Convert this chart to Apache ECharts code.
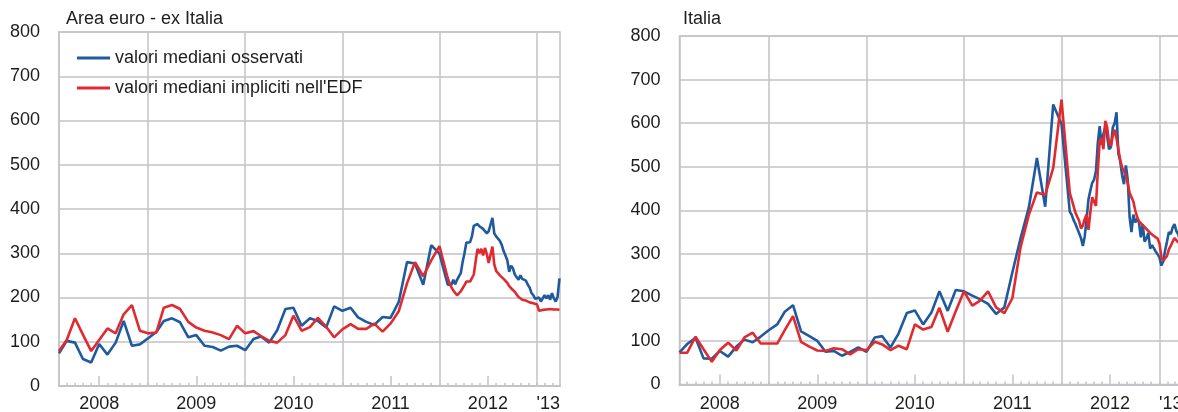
<!DOCTYPE html>
<html><head><meta charset="utf-8">
<script src="https://cdn.jsdelivr.net/npm/echarts@6/dist/echarts.min.js"></script>
<style>html,body{margin:0;padding:0;background:#fff}#c{width:1178px;height:412px}</style>
</head><body><div id="c"></div>
<script>
// ---------- data ----------
const seriesNames = ['valori mediani osservati', "valori mediani impliciti nell'EDF"];
const panelTitles = ['Area euro - ex Italia', 'Italia'];
// monthly observations: Feb 2008 .. Jan 2012 (first day of month)
const monthlyStart = [2008, 1];
// weekly observations from 1 Feb 2012
const weeklyStart = [2012, 1, 1];

const euBlueMonthly = [74,102,98,61,53,95,71,98,147,91,94,
  108,122,147,153,144,110,115,91,88,80,89,91,
  81,106,112,98,126,174,177,136,153,147,132,180,
  170,177,155,145,138,156,154,190,280,277,229,318,
  299];
const euRedMonthly = [79,104,153,116,79,104,130,119,162,183,125,
  119,121,177,183,174,145,132,125,121,115,106,136,
  119,124,113,102,98,115,159,125,133,154,134,110,
  128,140,129,129,141,123,141,169,232,280,248,284,
  316];
const euBlueWeekly = [229,229,229,240,230,240,240,255,280,300,
  324,326,325,338,362,362,366,361,365,355,
  359,345,350,365,380,345,338,340,328,319,
  305,295,284,258,272,266,252,255,240,250,
  242,240,238,229,222,210,205,197,193,200,
  191,195,205,198,205,195,210,198,191,202,
  243];
const euRedWeekly = [244,232,223,216,212,205,204,214,221,228,
  236,240,236,244,252,282,310,300,310,295,
  312,298,278,279,315,275,260,255,250,246,
  242,238,233,226,221,217,213,207,201,197,
  195,195,193,191,189,187,187,186,184,170,
  171,172,172,173,175,174,172,173,175,173,
  172];
const itBlueMonthly = [74,93,107,60,59,77,64,87,103,97,110,
  125,138,167,182,122,111,100,75,77,66,75,85,
  75,108,111,85,117,164,170,138,165,214,169,217,
  214,204,196,185,162,177,257,336,407,520,408,643,
  598];
const itRedMonthly = [73,73,110,81,52,79,96,78,108,119,94,
  94,94,125,157,98,87,78,77,83,81,69,81,
  79,98,92,79,89,81,138,126,132,176,121,168,
  214,181,192,214,177,164,198,316,390,441,435,497,
  654];
const itBlueWeekly = [397,390,378,369,358,347,336,318,340,380,
  425,445,463,470,490,555,593,550,575,592,
  570,540,545,590,600,625,530,512,480,460,
  503,470,385,350,390,372,380,372,338,368,
  328,335,348,312,320,316,305,299,291,273,
  283,308,328,350,345,360,368,352,345,330,
  325];
const itRedWeekly = [440,425,410,395,385,376,358,365,380,390,
  355,395,430,430,410,490,560,565,540,605,
  590,555,548,570,585,565,540,515,498,490,
  480,462,440,430,420,400,385,375,372,366,
  362,357,353,348,344,341,339,335,323,292,
  284,280,295,310,318,328,336,332,326,325,
  325];

const xLabelText = ['2008','2009','2010','2011','2012',"'13"];
const xLabelDates = [[2008,6,1],[2009,6,1],[2010,6,1],[2011,6,1],[2012,6,1],[2013,1,13]];
const yearLineDates = [[2009,0,1],[2010,0,1],[2011,0,1],[2012,0,1],[2013,0,1]];
const axisMinDate = [2008,1,1];
const axisMaxDate = [2013,2,29];

// ---------- build ----------
const ts = (a) => Date.UTC(a[0], a[1], a[2]);
function buildSeries(monthly, weekly) {
  const out = [];
  monthly.forEach((v, i) => out.push([Date.UTC(monthlyStart[0], monthlyStart[1] + i, 1), v]));
  weekly.forEach((v, i) => out.push([Date.UTC(weeklyStart[0], weeklyStart[1], weeklyStart[2] + 7 * i), v]));
  return out;
}
const tMin = ts(axisMinDate), tMax = ts(axisMaxDate);
const monthTicks = [];
for (let y = 2008; y <= 2013; y++) for (let m = 0; m < 12; m++) {
  const t = Date.UTC(y, m, 1);
  if (t > tMin && t <= tMax) monthTicks.push(t);
}
const midTicks = [2008,2009,2010,2011,2012].map(y => Date.UTC(y, 6, 1));
const labelTs = xLabelDates.map(ts);
const yearTs = yearLineDates.map(ts);

const GRAY = '#c3c3c8';
const TXT = '#1d1d1d';
const FONT = 'Liberation Sans';
const BLUE = '#1f5a9f';
const RED = '#e12a2f';

function xAxes(gi, margin) {
  return [
    { type: 'value', gridIndex: gi, min: tMin, max: tMax, position: 'bottom',
      axisLine: { show: true, onZero: false, lineStyle: { color: GRAY, width: 2 } },
      axisTick: { show: true, inside: true, length: 3, customValues: monthTicks, lineStyle: { color: GRAY, width: 1.5 } },
      axisLabel: { show: true, customValues: labelTs, margin: margin, color: TXT, fontSize: 18, fontFamily: FONT,
        formatter: (v) => { const i = labelTs.indexOf(v); return i >= 0 ? xLabelText[i] : ''; } },
      splitLine: { show: false } },
    { type: 'value', gridIndex: gi, min: tMin, max: tMax, position: 'bottom',
      axisLine: { show: false, onZero: false },
      axisTick: { show: true, inside: true, length: 10, customValues: midTicks, lineStyle: { color: GRAY, width: 1.5 } },
      axisLabel: { show: false }, splitLine: { show: false } },
    { type: 'value', gridIndex: gi, min: tMin, max: tMax, position: 'bottom',
      axisLine: { show: false, onZero: false },
      axisTick: { show: false, customValues: yearTs },
      axisLabel: { show: false },
      splitLine: { show: true, lineStyle: { color: GRAY, width: 1.5 } } }
  ];
}
function yAxis(gi) {
  return { type: 'value', gridIndex: gi, min: 0, max: 800, interval: 100,
    axisLine: { show: true, lineStyle: { color: GRAY, width: 1.5 } },
    axisTick: { show: false },
    axisLabel: { margin: 19, color: TXT, fontSize: 18, fontFamily: FONT },
    splitLine: { show: true, lineStyle: { color: GRAY, width: 1.5 } } };
}
function line(name, color, xi, yi, data) {
  return { type: 'line', name, xAxisIndex: xi, yAxisIndex: yi, data, showSymbol: false, symbol: 'none',
    lineStyle: { color, width: 2.6 }, itemStyle: { color }, animation: false };
}

const chart = echarts.init(document.getElementById('c'), null, { renderer: 'canvas' });
chart.setOption({
  animation: false,
  backgroundColor: '#fff',
  title: [
    { text: panelTitles[0], left: 66, top: 10, padding: 0, textStyle: { fontSize: 18, fontWeight: 'normal', color: TXT, fontFamily: FONT } },
    { text: panelTitles[1], left: 683, top: 10, padding: 0, textStyle: { fontSize: 18, fontWeight: 'normal', color: TXT, fontFamily: FONT } }
  ],
  legend: { left: 77, top: 48, orient: 'vertical', itemWidth: 33, itemHeight: 3, itemGap: 10, icon: 'rect', padding: 0,
    textStyle: { fontSize: 18, color: TXT, fontFamily: FONT, lineHeight: 20 }, data: seriesNames },
  grid: [
    { left: 59, top: 32, width: 501, height: 354, show: true, borderColor: GRAY, borderWidth: 1.5, containLabel: false, outerBoundsMode: 'none' },
    { left: 679.5, top: 36, width: 503, height: 348.5, show: true, borderColor: GRAY, borderWidth: 1.5, containLabel: false, outerBoundsMode: 'none' }
  ],
  xAxis: [...xAxes(0, 9), ...xAxes(1, 11)],
  yAxis: [yAxis(0), yAxis(1)],
  series: [
    line(seriesNames[0], BLUE, 0, 0, buildSeries(euBlueMonthly, euBlueWeekly)),
    line(seriesNames[1], RED, 0, 0, buildSeries(euRedMonthly, euRedWeekly)),
    line(seriesNames[0], BLUE, 3, 1, buildSeries(itBlueMonthly, itBlueWeekly)),
    line(seriesNames[1], RED, 3, 1, buildSeries(itRedMonthly, itRedWeekly))
  ]
});
</script></body></html>
